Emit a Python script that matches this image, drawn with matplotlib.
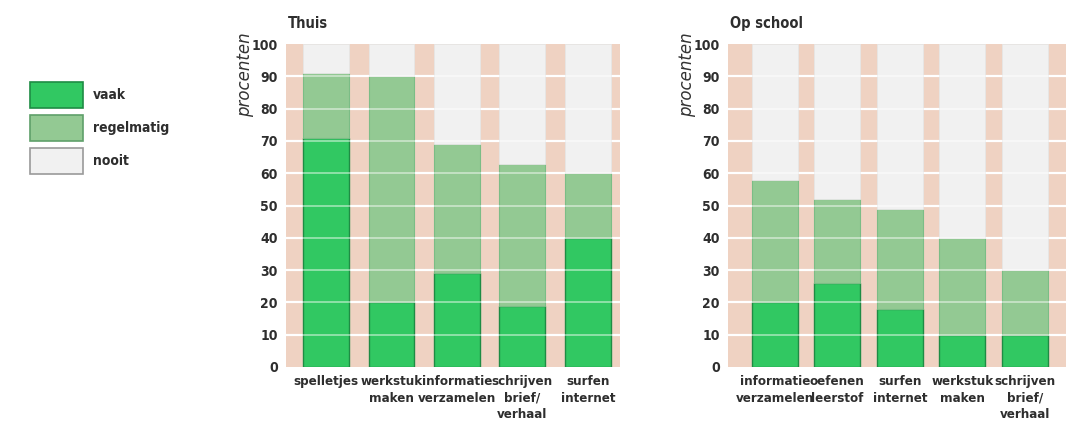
import numpy as np
from matplotlib import pyplot as plt
from matplotlib.patches import Rectangle

# gegevens
thuis_cat = ['spelletjes', 'werkstuk\nmaken', 'informatie\nverzamelen', 'schrijven\nbrief/\nverhaal', 'surfen\ninternet']
thuis_vaak = [71, 20, 29, 19, 40]
thuis_regelmatig = [20, 70, 40, 44, 20]

school_cat = ['informatie\nverzamelen', 'oefenen\nleerstof', 'surfen\ninternet', 'werkstuk\nmaken', 'schrijven\nbrief/\nverhaal']
school_vaak = [20, 26, 18, 10, 10]
school_regelmatig = [38, 26, 31, 30, 20]

legend_labels = ['vaak', 'regelmatig', 'nooit']

c_vaak = '#31c862'
c_regel = '#93c993'
c_nooit = '#f1f1f1'
c_pink = '#efd2c2'
e_vaak = '#1e8c44'
e_regel = '#7bbd86'
c_tekst = '#2e2e2e'

plt.rcParams['font.family'] = ['DejaVu Sans']
plt.rcParams['font.stretch'] = 'condensed'

fig = plt.figure(figsize=(10.66, 4.25), dpi=100)


def paneel(pos, cats, vaak, regel, titel, xlim, breedte):
    ax = fig.add_axes(pos)
    ax.set_facecolor(c_pink)
    x = np.arange(len(cats))
    vaak = np.array(vaak)
    regel = np.array(regel)
    nooit = 100 - vaak - regel
    ax.bar(x, vaak, width=breedte, color=c_vaak, edgecolor=e_vaak, linewidth=1, zorder=3)
    ax.bar(x, regel, bottom=vaak, width=breedte, color=c_regel, edgecolor=e_regel, linewidth=0.8, zorder=3)
    ax.bar(x, nooit, bottom=vaak + regel, width=breedte, color=c_nooit, edgecolor='#e6e6e6', linewidth=0.6, zorder=3)
    for g in range(10, 100, 10):
        ax.axhline(g, color='white', lw=1.6, zorder=2)
        ax.axhline(g, color='white', lw=1.4, alpha=0.45, zorder=4)
    ax.set_xlim(*xlim)
    ax.set_ylim(0, 100)
    ax.set_yticks(range(0, 101, 10))
    ax.set_yticklabels([str(v) for v in range(0, 101, 10)], fontsize=10, fontweight='bold', color=c_tekst)
    ax.set_xticks(x)
    ax.set_xticklabels(cats, fontsize=9.5, fontweight='bold', color=c_tekst, linespacing=1.35)
    ax.tick_params(length=0, pad=6)
    ax.tick_params(axis='y', pad=6)
    for s in ax.spines.values():
        s.set_visible(False)
    ax.text(0.005, 16 / 323 + 1, titel, transform=ax.transAxes, fontsize=10.5, fontweight='bold',
            color=c_tekst, va='baseline')
    ax.text(-41 / pos[2] / 1066, 1 + 12 / 323, 'procenten', transform=ax.transAxes, rotation=90,
            fontsize=12, style='italic', fontstretch='normal', color='#333333', ha='center', va='top')
    return ax


paneel([286 / 1066, 1 - 367 / 425, 334 / 1066, 323 / 425], thuis_cat, thuis_vaak, thuis_regelmatig,
       'Thuis', (-0.61, 4.49), 0.70)
paneel([728 / 1066, 1 - 367 / 425, 338 / 1066, 323 / 425], school_cat, school_vaak, school_regelmatig,
       'Op school', (-0.75, 4.66), 0.74)

# legenda
kleuren = [(c_vaak, e_vaak), (c_regel, '#5f9f6a'), (c_nooit, '#9a9a9a')]
for i, (lab, (fc, ec)) in enumerate(zip(legend_labels, kleuren)):
    y0 = 1 - (108 + i * 33) / 425
    fig.patches.append(Rectangle((30 / 1066, y0), 53 / 1066, 26 / 425, transform=fig.transFigure,
                                 facecolor=fc, edgecolor=ec, linewidth=1.2))
    fig.text(93 / 1066, y0 + 13 / 425, lab, fontsize=10, fontweight='bold', color=c_tekst, va='center')

plt.savefig('out.png', dpi=100)
